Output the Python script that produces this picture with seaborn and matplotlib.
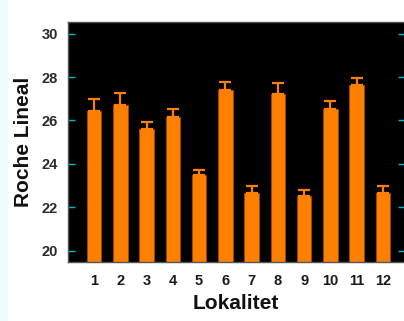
import matplotlib
matplotlib.use("Agg")
import matplotlib.pyplot as plt
import seaborn as sns
import pandas as pd
from matplotlib.patches import Rectangle

categories = ["1", "2", "3", "4", "5", "6", "7", "8", "9", "10", "11", "12"]
means = [26.43, 26.71, 25.60, 26.14, 23.47, 27.40, 22.68, 27.23, 22.51, 26.54, 27.62, 22.68]
errors = [0.55, 0.55, 0.33, 0.37, 0.26, 0.38, 0.32, 0.50, 0.30, 0.38, 0.33, 0.32]
yticks = [20, 22, 24, 26, 28, 30]

df = pd.DataFrame({"Lokalitet": categories, "Roche": means})

sns.set_style("white")
plt.rcParams['font.family'] = ['Liberation Sans', 'DejaVu Sans']

fig = plt.figure(figsize=(4.04, 3.21), dpi=100)
fig.patch.set_facecolor("white")
fig.patches.append(Rectangle((0, 0), 8 / 404, 1, transform=fig.transFigure,
                             facecolor="#EEFCFD", edgecolor="none", zorder=0))
ax = fig.add_axes([67.5 / 404, 59.5 / 321, 337.5 / 404, 239.5 / 321])
ax.set_facecolor("black")

orange = "#FF8000"
sns.barplot(data=df, x="Lokalitet", y="Roche", color=orange, saturation=1,
            edgecolor="#9A4A00", linewidth=0.8, width=0.55, errorbar=None, ax=ax)
ax.errorbar(x=list(range(len(categories))), y=means,
            yerr=[[0] * len(errors), errors], fmt="none", ecolor=orange,
            elinewidth=1.6, capsize=4.3, capthick=1.6, zorder=1)

ax.set_ylim(19.5, 30.54)
ax.set_xlim(-1.01, 11.84)
ax.set_yticks(yticks)
ax.set_yticklabels([str(t) for t in yticks], fontsize=10.5, fontweight="bold", color="#2a2a2a")
ax.set_xticks(list(range(len(categories))))
ax.set_xticklabels(categories, fontsize=10.5, fontweight="bold", color="#1a1a1a")
ax.tick_params(axis="y", direction="in", length=5, width=1, color="#00B8C8",
               right=True, left=True, pad=7)
ax.tick_params(axis="x", direction="out", length=4, width=1, color="#444444", pad=5)

for s in ax.spines.values():
    s.set_color("#555555")
    s.set_linewidth(1)

ax.set_xlabel("Lokalitet", fontsize=15, fontweight="bold", color="#111111", labelpad=4)
ax.set_ylabel("Roche Lineal", fontsize=15, fontweight="bold", color="#111111", labelpad=6)

fig.savefig("out.png", dpi=100)
